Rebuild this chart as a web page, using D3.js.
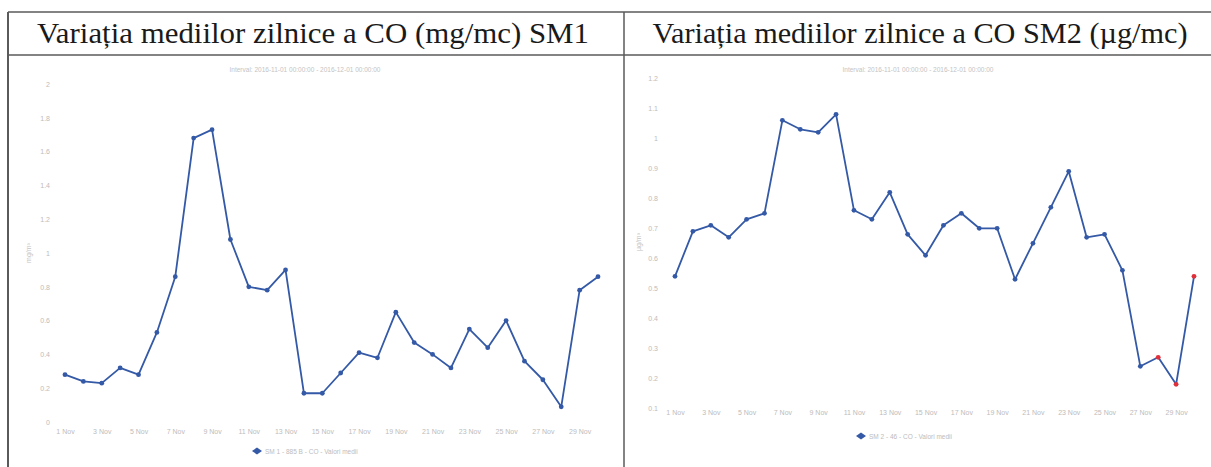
<!DOCTYPE html>
<html>
<head>
<meta charset="utf-8">
<script src="https://cdn.jsdelivr.net/npm/d3@7"></script>
<style>
  body { margin: 0; background: #fff; }
  svg { display: block; }
  .tick text { fill: #bcbcbc; font-family: "Liberation Sans", Arial, sans-serif; font-size: 7px; }
</style>
</head>
<body>
<script>
// categories (days of November)
var days = [1,2,3,4,5,6,7,8,9,10,11,12,13,14,15,16,17,18,19,20,21,22,23,24,25,26,27,28,29,30];
var dayTicks = [1,3,5,7,9,11,13,15,17,19,21,23,25,27,29];

// SM1 - CO daily means (mg/mc)
var sm1 = [0.28,0.24,0.23,0.32,0.28,0.53,0.86,1.68,1.73,1.08,0.80,0.78,0.90,0.17,0.17,0.29,0.41,0.38,0.65,0.47,0.40,0.32,0.55,0.44,0.60,0.36,0.25,0.09,0.78,0.86];
// SM2 - CO daily means
var sm2 = [0.54,0.69,0.71,0.67,0.73,0.75,1.06,1.03,1.02,1.08,0.76,0.73,0.82,0.68,0.61,0.71,0.75,0.70,0.70,0.53,0.65,0.77,0.89,0.67,0.68,0.56,0.24,0.27,0.18,0.54];
// flagged (red) points in SM2
var sm2Flagged = [28,29,30];

var sm1Ticks = [0,0.2,0.4,0.6,0.8,1,1.2,1.4,1.6,1.8,2];
var sm2Ticks = [0.1,0.2,0.3,0.4,0.5,0.6,0.7,0.8,0.9,1,1.1,1.2];

var titles = ["Variația mediilor zilnice a CO (mg/mc) SM1", "Variația mediilor zilnice a CO SM2 (µg/mc)"];
var subtitle = "Interval: 2016-11-01 00:00:00 - 2016-12-01 00:00:00";
var legends = ["SM 1 - 885 B - CO - Valori medii", "SM 2 - 46 - CO - Valori medii"];

var W = 1211, H = 467;
var blue = "#3459a6";

var svg = d3.select("body").append("svg").attr("width", W).attr("height", H);

// table frame of the scanned document
var frame = svg.append("g").attr("stroke", "#5a5a5a").attr("fill", "none");
frame.append("line").attr("x1", 8).attr("x2", W).attr("y1", 12).attr("y2", 12).attr("stroke-width", 1.5);
frame.append("line").attr("x1", 8).attr("x2", W).attr("y1", 55).attr("y2", 55).attr("stroke-width", 1.5);
frame.append("line").attr("x1", 8).attr("x2", 8).attr("y1", 12).attr("y2", H).attr("stroke-width", 2);
frame.append("line").attr("x1", 624).attr("x2", 624).attr("y1", 12).attr("y2", H).attr("stroke-width", 1.5);

// header titles
svg.selectAll(".title").data(titles).enter().append("text")
  .attr("x", function(d, i) { return i == 0 ? 313 : 920; })
  .attr("y", 43)
  .attr("text-anchor", "middle")
  .attr("font-family", "'Liberation Serif', 'Times New Roman', serif")
  .attr("font-size", 29)
  .attr("fill", "#1a1a1a")
  .attr("textLength", function(d, i) { return i == 0 ? 552 : 535; })
  .attr("lengthAdjust", "spacingAndGlyphs")
  .text(function(d) { return d; });

function drawChart(opt) {
  var x = d3.scaleLinear().domain([1, 30]).range(opt.xRange);
  var y = d3.scaleLinear().domain(opt.yDomain).range(opt.yRange);
  var g = svg.append("g");

  // subtitle
  g.append("text").attr("x", opt.cx).attr("y", 72).attr("text-anchor", "middle")
    .attr("font-family", "'Liberation Sans', Arial, sans-serif").attr("font-size", 6.5)
    .attr("fill", "#c4c4c4").text(subtitle);

  // y axis
  var ya = g.append("g").attr("transform", "translate(" + opt.yAxisX + ",0)")
    .call(d3.axisLeft(y).tickValues(opt.yTicks).tickSize(0).tickPadding(0)
      .tickFormat(function(d) { return String(+d.toFixed(1)); }));
  ya.select(".domain").remove();

  // y title
  g.append("text").attr("transform", "translate(" + opt.yTitle[0] + "," + opt.yTitle[1] + ") rotate(-90)")
    .attr("text-anchor", "middle").attr("font-family", "'Liberation Sans', Arial, sans-serif")
    .attr("font-size", 7).attr("fill", "#c4c4c4").text(opt.unit);

  // x axis
  var xa = g.append("g").attr("transform", "translate(0," + opt.xAxisY + ")")
    .call(d3.axisBottom(x).tickValues(dayTicks).tickSize(0).tickPadding(0)
      .tickFormat(function(d) { return d + " Nov"; }));
  xa.select(".domain").remove();

  // line
  var line = d3.line().x(function(d, i) { return x(days[i]); }).y(function(d) { return y(d); });
  g.append("path").datum(opt.values).attr("d", line)
    .attr("fill", "none").attr("stroke", blue).attr("stroke-width", 1.8).attr("stroke-linejoin", "round");

  g.selectAll(".pt").data(opt.values).enter().append("circle")
    .attr("cx", function(d, i) { return x(days[i]); })
    .attr("cy", function(d) { return y(d); })
    .attr("r", 2.4)
    .attr("fill", function(d, i) { return opt.flagged.indexOf(days[i]) >= 0 ? "#e0303a" : blue; });

  // legend
  var lg = g.append("g").attr("transform", "translate(" + opt.legend[0] + "," + opt.legend[1] + ")");
  lg.append("path").attr("d", "M-5,0L0,-3.5L5,0L0,3.5Z").attr("fill", blue);
  lg.append("text").attr("x", 8).attr("y", 2.5).attr("font-family", "'Liberation Sans', Arial, sans-serif")
    .attr("font-size", 6.5).attr("fill", "#bcbcbc").text(opt.legendText);
}

drawChart({
  values: sm1, flagged: [], xRange: [65, 598], yDomain: [0, 2], yRange: [422, 84],
  yTicks: sm1Ticks, yAxisX: 50, xAxisY: 429, cx: 305, yTitle: [31, 253], unit: "mg/m³",
  legend: [257, 451], legendText: legends[0]
});

drawChart({
  values: sm2, flagged: sm2Flagged, xRange: [675, 1194], yDomain: [0.1, 1.2], yRange: [408.3, 78.3],
  yTicks: sm2Ticks, yAxisX: 658, xAxisY: 410, cx: 918, yTitle: [641, 242], unit: "µg/m³",
  legend: [861, 436], legendText: legends[1]
});
</script>
</body>
</html>
